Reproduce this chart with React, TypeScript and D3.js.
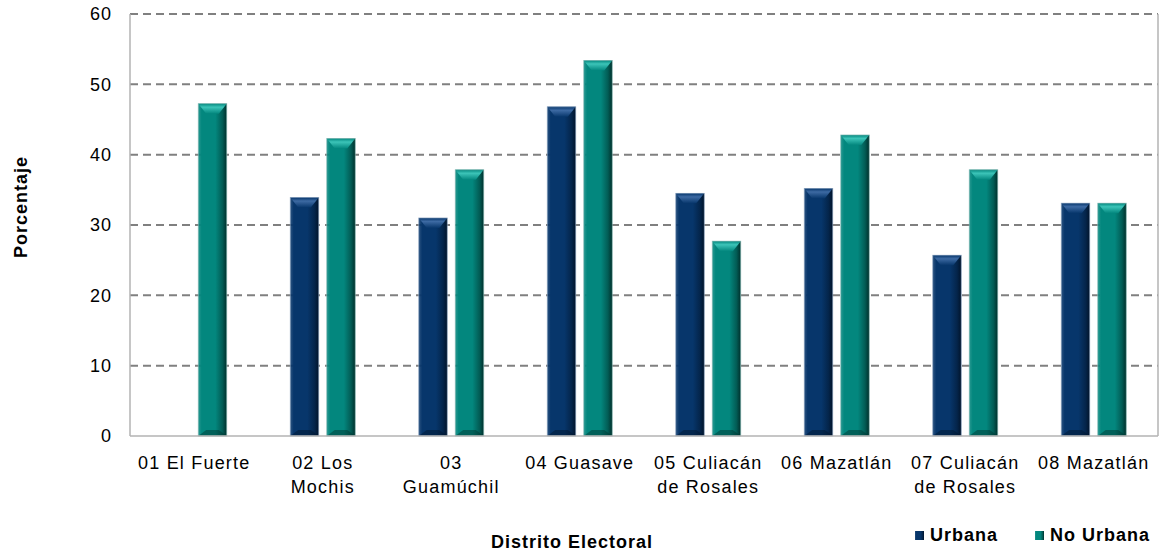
import React from "react";
import * as d3 from "d3";

const categoryLines: string[][] = [
  ["01 El Fuerte"],
  ["02 Los", "Mochis"],
  ["03", "Guamúchil"],
  ["04 Guasave"],
  ["05 Culiacán", "de Rosales"],
  ["06 Mazatlán"],
  ["07 Culiacán", "de Rosales"],
  ["08 Mazatlán"],
];
const categories = categoryLines.map((l) => l.join(" "));
const seriesNames = ["Urbana", "No Urbana"];
const urbana: (number | null)[] = [null, 33.9, 31.0, 46.8, 34.5, 35.2, 25.7, 33.1];
const noUrbana: (number | null)[] = [47.25, 42.3, 37.85, 53.4, 27.7, 42.8, 37.85, 33.1];
const yTicks = [0, 10, 20, 30, 40, 50, 60];

const W = 1162;
const H = 554;
const left = 130;
const right = 1158;
const top = 14;
const bottom = 436;

const colors = {
  Urbana: { base: "#07366b", light: "#3d6aa3", dark: "#01142b", edge: "#8aa3bf" },
  "No Urbana": { base: "#03877e", light: "#3cc4b8", dark: "#00302c", edge: "#86b9b4" },
} as Record<string, { base: string; light: string; dark: string; edge: string }>;

const font = "'Liberation Sans', Arial, sans-serif";

export default function App() {
  const x = d3.scaleBand<string>().domain(categories).range([left, right]).paddingInner(0).paddingOuter(0);
  const y = d3.scaleLinear().domain([0, 60]).range([bottom, top]);
  const sub = d3.scaleBand<string>().domain(seriesNames).range([-32.5, 32.5]).paddingInner(0.219);
  const data = [urbana, noUrbana];

  const bars: React.ReactNode[] = [];
  categories.forEach((c, i) => {
    const cx = (x(c) as number) + x.bandwidth() / 2;
    seriesNames.forEach((s, si) => {
      const v = data[si][i];
      if (v == null) return;
      const x0 = cx + (sub(s) as number);
      const w = sub.bandwidth();
      const y0 = y(v);
      const h = bottom - y0;
      const bev = Math.min(10, h / 2);
      const key = s === "Urbana" ? "u" : "n";
      bars.push(
        <g key={c + s}>
          <rect x={x0} y={y0} width={w} height={h} fill={`url(#body-${key})`} />
          <polygon
            points={`${x0},${y0} ${x0 + w},${y0} ${x0 + w * 0.72},${y0 + bev} ${x0 + w * 0.28},${y0 + bev}`}
            fill={`url(#top-${key})`}
          />
          <polygon
            points={`${x0 + w * 0.28},${bottom - 6} ${x0 + w * 0.72},${bottom - 6} ${x0 + w},${bottom} ${x0},${bottom}`}
            fill={colors[s].dark}
            opacity={0.45}
          />
          <rect x={x0} y={y0} width={w} height={h} fill="none" stroke={colors[s].edge} strokeWidth={0.8} strokeOpacity={0.8} />
        </g>
      );
    });
  });

  return (
    <svg width={W} height={H} style={{ position: "absolute", left: 0, top: 0, background: "#fff" }} fontFamily={font}>
      <defs>
        {seriesNames.map((s) => {
          const key = s === "Urbana" ? "u" : "n";
          const c = colors[s];
          return (
            <React.Fragment key={s}>
              <linearGradient id={`body-${key}`} x1="0" x2="1" y1="0" y2="0">
                <stop offset="0" stopColor={c.base} stopOpacity={0.85} />
                <stop offset="0.12" stopColor={c.base} />
                <stop offset="0.6" stopColor={c.base} />
                <stop offset="0.85" stopColor={d3.interpolateRgb(c.base, c.dark)(0.5)} />
                <stop offset="1" stopColor={c.dark} />
              </linearGradient>
              <linearGradient id={`top-${key}`} x1="0" x2="0" y1="0" y2="1">
                <stop offset="0" stopColor={c.base} />
                <stop offset="0.35" stopColor={c.light} />
                <stop offset="1" stopColor={c.base} />
              </linearGradient>
            </React.Fragment>
          );
        })}
      </defs>

      {/* gridlines */}
      {yTicks.filter((t) => t > 0).map((t) => (
        <line key={t} x1={left} x2={right} y1={y(t)} y2={y(t)} stroke="#808080" strokeWidth={2} strokeDasharray="8,5" />
      ))}

      {/* axis frame */}
      <line x1={left} x2={left} y1={top} y2={bottom} stroke="#b3b3b3" strokeWidth={1.5} />
      <line x1={right} x2={right} y1={top} y2={bottom} stroke="#b3b3b3" strokeWidth={1.5} />

      {bars}

      <line x1={left} x2={right} y1={bottom} y2={bottom} stroke="#b3b3b3" strokeWidth={1.5} />

      {/* y tick labels */}
      {yTicks.map((t) => (
        <text key={t} x={112} y={y(t)} dy="0.35em" textAnchor="end" fontSize={18} letterSpacing={1} fill="#000">
          {t}
        </text>
      ))}

      {/* x labels */}
      {categoryLines.map((lines, i) => {
        const cx = (x(categories[i]) as number) + x.bandwidth() / 2;
        return (
          <text key={i} textAnchor="middle" fontSize={18} letterSpacing={1.2} fill="#000">
            {lines.map((ln, li) => (
              <tspan key={li} x={cx} y={469 + li * 24}>
                {ln}
              </tspan>
            ))}
          </text>
        );
      })}

      {/* axis titles */}
      <text x={572} y={548} textAnchor="middle" fontSize={18} fontWeight="bold" letterSpacing={1}>
        Distrito Electoral
      </text>
      <text
        transform={`translate(27,207) rotate(-90)`}
        textAnchor="middle"
        fontSize={18}
        fontWeight="bold"
        letterSpacing={1}
      >
        Porcentaje
      </text>

      {/* legend */}
      {seriesNames.map((s, i) => {
        const key = s === "Urbana" ? "u" : "n";
        const mx = i === 0 ? 915 : 1035;
        return (
          <g key={s}>
            <rect x={mx} y={531} width={9} height={9} fill={`url(#body-${key})`} />
            <text x={mx + 15} y={541} fontSize={18} fontWeight="bold" letterSpacing={1}>
              {s}
            </text>
          </g>
        );
      })}
    </svg>
  );
}
